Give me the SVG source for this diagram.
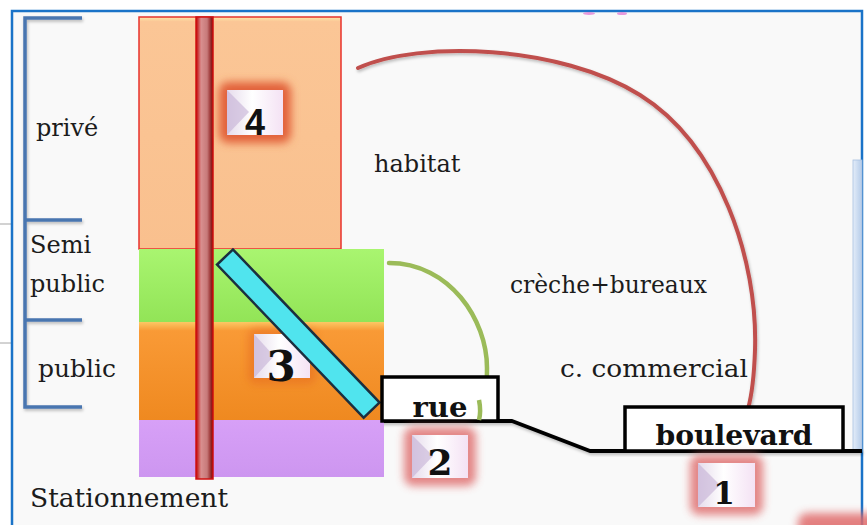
<svg xmlns="http://www.w3.org/2000/svg" width="867" height="525" viewBox="0 0 867 525">
  <defs>
    <style>
      .lbl{font-family:"DejaVu Serif","Liberation Serif",serif;fill:#1c1c1c;font-size:24px;}
      .road-txt{font-family:"DejaVu Serif","Liberation Serif",serif;font-weight:bold;fill:#111;font-size:27px;text-anchor:middle;}
      .bracket{stroke:#4a76b0;stroke-width:3.5;fill:none;}
      .ground{stroke:#000;stroke-width:4;fill:none;stroke-linejoin:round;}
      .road{fill:#fff;stroke:#000;stroke-width:3.5;}
      .badge{fill:url(#badgeGrad);}
      .bevel{fill:#c5b0d6;opacity:.6;}
      .num{font-family:"DejaVu Serif","Liberation Serif",serif;font-weight:bold;fill:#111;text-anchor:middle;}
    </style>
    <linearGradient id="badgeGrad" x1="0" y1="0" x2="1" y2="0">
      <stop offset="0" stop-color="#e6dcec"/>
      <stop offset="0.45" stop-color="#ffffff"/>
      <stop offset="1" stop-color="#f4e2f4"/>
    </linearGradient>
    <linearGradient id="poleGrad" x1="0" y1="0" x2="1" y2="0">
      <stop offset="0" stop-color="#c00000"/>
      <stop offset="0.3" stop-color="#d98f8f"/>
      <stop offset="0.65" stop-color="#c77a7a"/>
      <stop offset="1" stop-color="#7a0000"/>
    </linearGradient>
    <linearGradient id="peachGrad" x1="0" y1="0" x2="0" y2="1">
      <stop offset="0" stop-color="#fde7a8"/>
      <stop offset="0.02" stop-color="#fbc696"/>
      <stop offset="1" stop-color="#f9c08e"/>
    </linearGradient>
    <linearGradient id="greenGrad" x1="0" y1="0" x2="0" y2="1">
      <stop offset="0" stop-color="#a9f570"/>
      <stop offset="1" stop-color="#92e457"/>
    </linearGradient>
    <linearGradient id="orangeGrad" x1="0" y1="0" x2="0" y2="1">
      <stop offset="0" stop-color="#fcc865"/>
      <stop offset="0.09" stop-color="#f99a36"/>
      <stop offset="1" stop-color="#ef8920"/>
    </linearGradient>
    <linearGradient id="purpleGrad" x1="0" y1="0" x2="0" y2="1">
      <stop offset="0" stop-color="#d7a0f7"/>
      <stop offset="1" stop-color="#cd96f0"/>
    </linearGradient>
    <linearGradient id="panelGrad" x1="0" y1="0" x2="1" y2="0">
      <stop offset="0" stop-color="#e4edf9"/>
      <stop offset="1" stop-color="#b4cbe9"/>
    </linearGradient>
    <filter id="glow" x="-50%" y="-50%" width="200%" height="200%">
      <feGaussianBlur stdDeviation="4"/>
    </filter>
    <filter id="soft" x="-20%" y="-20%" width="140%" height="140%">
      <feDropShadow dx="1" dy="2" stdDeviation="1.5" flood-color="#000" flood-opacity="0.25"/>
    </filter>
  </defs>

  <!-- page -->
  <rect x="0" y="0" width="867" height="525" fill="#ffffff"/>
  <rect x="-5" y="224" width="17" height="119" fill="#ffffff" stroke="#c4c4c4" stroke-width="1.5"/>
  <rect x="12" y="11" width="850" height="530" fill="#f9f9f9" stroke="#1a73c8" stroke-width="2.5"/>
  <ellipse cx="589" cy="13.5" rx="6" ry="1.5" fill="#e070d0" opacity="0.7"/>
  <ellipse cx="622" cy="13.5" rx="5" ry="1.5" fill="#e070d0" opacity="0.7"/>

  <!-- side panel -->
  <g id="side-panel">
    <rect x="853" y="160" width="9" height="292" fill="url(#panelGrad)" stroke="#a8c0e0" stroke-width="0.8"/>
  </g>

  <!-- level bracket -->
  <g id="levels">
    <path class="bracket" d="M82,18 H25 V407 H82 M25,220 H82 M25,320 H82" filter="url(#soft)"/>
    <text class="lbl" x="36" y="136">privé</text>
    <text class="lbl" x="30" y="253">Semi</text>
    <text class="lbl" x="30" y="292">public</text>
    <text class="lbl" x="38" y="377" style="font-size:25px">public</text>
    <text class="lbl" x="30" y="507" style="font-size:26.5px">Stationnement</text>
  </g>

  <!-- connectors: ground line and arcs -->
  <g id="connectors">
    <path class="ground" d="M12,421 H139" filter="url(#soft)"/>
    <path class="ground" d="M370,421 H512 L590,451 H862" filter="url(#soft)"/>
    <path d="M358,68 C420,40 560,45 640,95 C720,145 758,260 755,350 C754,380 751,398 748,409" fill="none" stroke="#c0504d" stroke-width="4" stroke-linecap="round" filter="url(#soft)"/>
    <path d="M389,263 C450,263 487,320 487,368 C487,398 483,412 479,420" fill="none" stroke="#9bbb59" stroke-width="4.5" stroke-linecap="round"/>
  </g>

  <!-- building blocks -->
  <g id="zone-prive">
    <rect x="139" y="17" width="202" height="232" fill="url(#peachGrad)" stroke="#e8322c" stroke-width="1.5"/>
  </g>
  <g id="zone-semi-public">
    <rect x="139" y="249" width="245" height="73" fill="url(#greenGrad)"/>
  </g>
  <g id="zone-public">
    <rect x="139" y="322" width="245" height="98" fill="url(#orangeGrad)"/>
  </g>
  <g id="zone-stationnement">
    <rect x="139" y="420" width="245" height="57" fill="url(#purpleGrad)"/>
  </g>

  <!-- badge 3 -->
  <g id="badge-3">
    <rect x="248" y="328" width="68" height="56" rx="8" fill="#e2601c" opacity="0.45" filter="url(#glow)"/>
    <rect class="badge" x="254" y="334" width="56" height="44"/>
    <polygon class="bevel" points="254,334 274,356 254,378"/>
    <text class="num" x="281" y="381" style="font-size:42px">3</text>
  </g>

  <!-- ramp -->
  <g id="ramp">
    <rect x="0" y="-11" width="212" height="22" transform="translate(225,257) rotate(46.25)" fill="#50e4ee" stroke="#1b2f3f" stroke-width="2.5"/>
  </g>

  <!-- vertical circulation -->
  <g id="pole">
    <rect x="196" y="17" width="17" height="462" fill="url(#poleGrad)" stroke="#d01010" stroke-width="1.5"/>
  </g>

  <!-- badge 4 -->
  <g id="badge-4">
    <rect x="219" y="82" width="72" height="61" rx="9" fill="#e2623a" filter="url(#glow)"/>
    <rect class="badge" x="227" y="90" width="56" height="45"/>
    <polygon class="bevel" points="227,90 249,112 227,135"/>
    <text x="255" y="135" text-anchor="middle" font-family="Liberation Sans, Arial, sans-serif" font-weight="bold" font-size="36" fill="#111">4</text>
  </g>

  <g id="habitat-label">
    <text class="lbl" x="374" y="172">habitat</text>
  </g>
  <g id="bureaux-label">
    <text class="lbl" x="510" y="293" style="font-size:23.4px">crèche+bureaux</text>
  </g>
  <g id="commercial-label">
    <text class="lbl" x="560" y="377" style="font-size:25px" textLength="188" lengthAdjust="spacingAndGlyphs">c. commercial</text>
  </g>

  <!-- roads -->
  <g id="rue">
    <rect class="road" x="382" y="377" width="116" height="44"/>
    <path d="M479,400 C481,410 480,416 479,420" fill="none" stroke="#9bbb59" stroke-width="4.5"/>
    <text class="road-txt" x="440" y="417" textLength="55" lengthAdjust="spacingAndGlyphs">rue</text>
  </g>
  <g id="boulevard">
    <rect class="road" x="625" y="407" width="218" height="44"/>
    <text class="road-txt" x="734" y="445" textLength="157" lengthAdjust="spacingAndGlyphs">boulevard</text>
  </g>

  <!-- badge 2 -->
  <g id="badge-2">
    <rect x="404" y="427" width="72" height="59" rx="9" fill="#e07272" opacity="0.85" filter="url(#glow)"/>
    <rect class="badge" x="412" y="435" width="56" height="43"/>
    <polygon class="bevel" points="412,435 433,456 412,478"/>
    <text class="num" x="440" y="475" style="font-size:36px">2</text>
  </g>

  <!-- badge 1 -->
  <g id="badge-1">
    <rect x="690" y="455" width="73" height="60" rx="9" fill="#e07272" opacity="0.85" filter="url(#glow)"/>
    <rect class="badge" x="698" y="463" width="57" height="44"/>
    <polygon class="bevel" points="698,463 720,485 698,507"/>
    <text class="num" x="724" y="504" style="font-size:31px">1</text>
  </g>

  <!-- partial badge at lower edge -->
  <g id="badge-edge">
    <rect x="798" y="513" width="90" height="30" rx="9" fill="#e06a6a" opacity="0.85" filter="url(#glow)"/>
  </g>
</svg>
